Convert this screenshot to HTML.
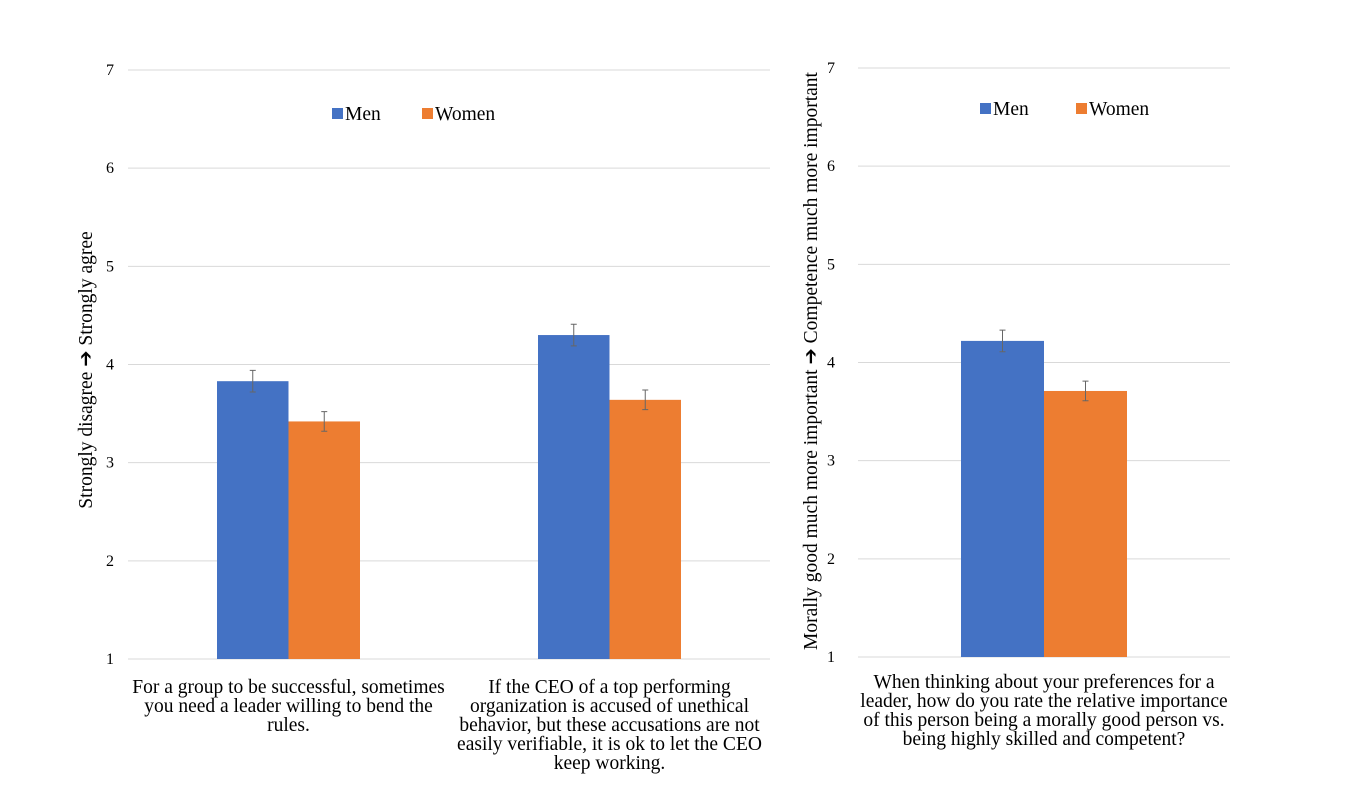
<!DOCTYPE html>
<html><head><meta charset="utf-8">
<style>
body{margin:0;background:#fff;}
svg text{font-family:"Liberation Serif",serif;fill:#000;}
</style></head>
<body>
<svg id="c" width="1360" height="789" viewBox="0 0 1360 789" xmlns="http://www.w3.org/2000/svg">
<g><text transform="translate(92,370) rotate(-90)" text-anchor="middle" font-size="19.5">Strongly disagree ➔ Strongly agree</text></g>
<g><text transform="translate(817,361) rotate(-90)" text-anchor="middle" font-size="19.5">Morally good much more important ➔ Competence much more important</text></g>
</svg>
<script>
const yTicks = [1,2,3,4,5,6,7];
const leftCategories = [
 ["For a group to be successful, sometimes","you need a leader willing to bend the","rules."],
 ["If the CEO of a top performing","organization is accused of unethical","behavior, but these accusations are not","easily verifiable, it is ok to let the CEO","keep working."]
];
const leftMen = [3.83, 4.30];
const leftWomen = [3.42, 3.64];
const leftMenErr = [0.11, 0.11];
const leftWomenErr = [0.10, 0.10];
const rightCategories = [
 ["When thinking about your preferences for a","leader, how do you rate the relative importance","of this person being a morally good person vs.","being highly skilled and competent?"]
];
const rightMen = [4.22];
const rightWomen = [3.71];
const rightMenErr = [0.11];
const rightWomenErr = [0.10];
const seriesNames = ["Men","Women"];
const colors = ["#4472C4","#ED7D31"];

const svg = document.getElementById('c');
const NS = "http://www.w3.org/2000/svg";
function mk(tag, attrs, parent){const e=document.createElementNS(NS,tag);for(const k in attrs)e.setAttribute(k,attrs[k]);(parent||svg).appendChild(e);return e;}

function panel(cfg, cats, men, women, menErr, womenErr, prefix){
  const y = v => cfg.y1 - (v-1)*(cfg.y1-cfg.y7)/6;
  const g = mk('g',{});
  
  
  yTicks.forEach(t=>{
    const l = mk('line',{x1:cfg.x0,x2:cfg.x1,y1:y(t),y2:y(t),stroke:'#d9d9d9','stroke-width':1},g);
    
    
    const tx = mk('text',{x:cfg.tickX,y:y(t)+5,'text-anchor':'end','font-size':16},g);
    tx.textContent=t;
    
    
  });
  const n = cats.length, w=(cfg.x1-cfg.x0)/n;
  cats.forEach((c,i)=>{
    const cx = cfg.x0 + w*(i+0.5);
    [[men,menErr,0],[women,womenErr,1]].forEach(([vals,errs,s])=>{
      const bx = s===0? cx-cfg.bw : cx;
      const r = mk('rect',{x:bx,y:y(vals[i]),width:cfg.bw,height:y(1)-y(vals[i]),fill:colors[s]},g);
      
      
      const ex = bx+cfg.bw/2, hi=y(vals[i]+errs[i]), lo=y(vals[i]-errs[i]);
      const eb = mk('path',{d:`M${ex},${hi}V${lo}M${ex-3},${hi}H${ex+3}M${ex-3},${lo}H${ex+3}`,stroke:'#666','stroke-width':1,fill:'none'},g);
      
      
    });
    c.forEach((line,j)=>{
      const t = mk('text',{x:cx,y:cfg.labY+j*19,'text-anchor':'middle','font-size':19.5},g);
      t.textContent=line;
      
      
    });
  });
  seriesNames.forEach((s,k)=>{
    const lx = cfg.legX[k];
    const r = mk('rect',{x:lx,y:cfg.legY-12,width:11,height:11,fill:colors[k]},g);
    
    
    const t = mk('text',{x:lx+13,y:cfg.legY,'font-size':19.5},g);
    t.textContent=s;
    
    
  });
}
panel({x0:128,x1:770,y1:659,y7:70,bw:71.5,tickX:114,labY:693,legX:[332,422],legY:120}, leftCategories, leftMen, leftWomen, leftMenErr, leftWomenErr, 'left');
panel({x0:858,x1:1230,y1:657,y7:68,bw:83,tickX:835,labY:688,legX:[980,1076],legY:115}, rightCategories, rightMen, rightWomen, rightMenErr, rightWomenErr, 'right');
</script>
</body></html>
